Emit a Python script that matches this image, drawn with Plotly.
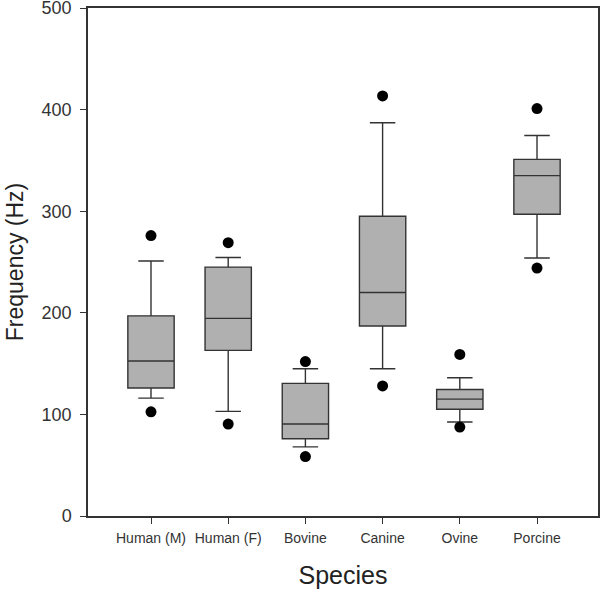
import plotly.graph_objects as go

categories = ["Human (M)", "Human (F)", "Bovine", "Canine", "Ovine", "Porcine"]
lower_whisker = [116, 103, 68, 145, 92.5, 254]
q1 = [126, 163, 76, 187, 105, 297]
median = [152.5, 194.5, 90.5, 220, 115, 335]
q3 = [197, 245, 130.5, 295, 124.5, 351]
upper_whisker = [251, 254.5, 145, 387, 136, 374.5]
outlier_low = [102.5, 90.5, 58.5, 128, 87.5, 244]
outlier_high = [276, 269, 152, 413.5, 159, 401]
y_ticks = [0, 100, 200, 300, 400, 500]

fig = go.Figure()
fig.add_trace(go.Box(
    x=categories,
    q1=q1, median=median, q3=q3,
    lowerfence=lower_whisker, upperfence=upper_whisker,
    width=0.6,
    whiskerwidth=0.55,
    fillcolor="#b0b0b0",
    line=dict(color="#333333", width=1.4),
    boxpoints=False,
    showlegend=False,
    hoverinfo="skip",
))
fig.add_trace(go.Scatter(
    x=categories + categories,
    y=outlier_low + outlier_high,
    mode="markers",
    marker=dict(color="black", size=11),
    showlegend=False,
    hoverinfo="skip",
    cliponaxis=False,
))

fig.update_layout(
    width=600, height=589,
    margin=dict(l=88, r=2, t=8, b=73),
    paper_bgcolor="white", plot_bgcolor="white",
    font=dict(family="Liberation Sans, Arial, sans-serif", color="#222"),
)
fig.update_xaxes(
    type="category",
    range=[-0.816, 5.79],
    automargin=False,
    showline=True, linecolor="#333", linewidth=1.5, mirror=True,
    ticks="outside", ticklen=6, tickcolor="#333", tickwidth=1,
    ticklabelstandoff=2,
    showgrid=False, zeroline=False,
    tickfont=dict(size=14, color="#333"),
    title=dict(text="Species", font=dict(size=25, color="#222"), standoff=24),
)
fig.update_yaxes(
    range=[0, 500],
    tickvals=y_ticks,
    automargin=False,
    ticklabeloverflow="allow",
    ticklabelstandoff=5,
    showline=True, linecolor="#333", linewidth=1.5, mirror=True,
    ticks="outside", ticklen=6, tickcolor="#333", tickwidth=1,
    showgrid=False, zeroline=False,
    tickfont=dict(size=18, color="#333"),
    title=dict(text="Frequency (Hz)", font=dict(size=23, color="#222"), standoff=12),
)

fig.write_html(
    "out.html",
    config={"displayModeBar": False},
    post_script="document.body.style.margin='0';document.body.style.padding='0';",
)
